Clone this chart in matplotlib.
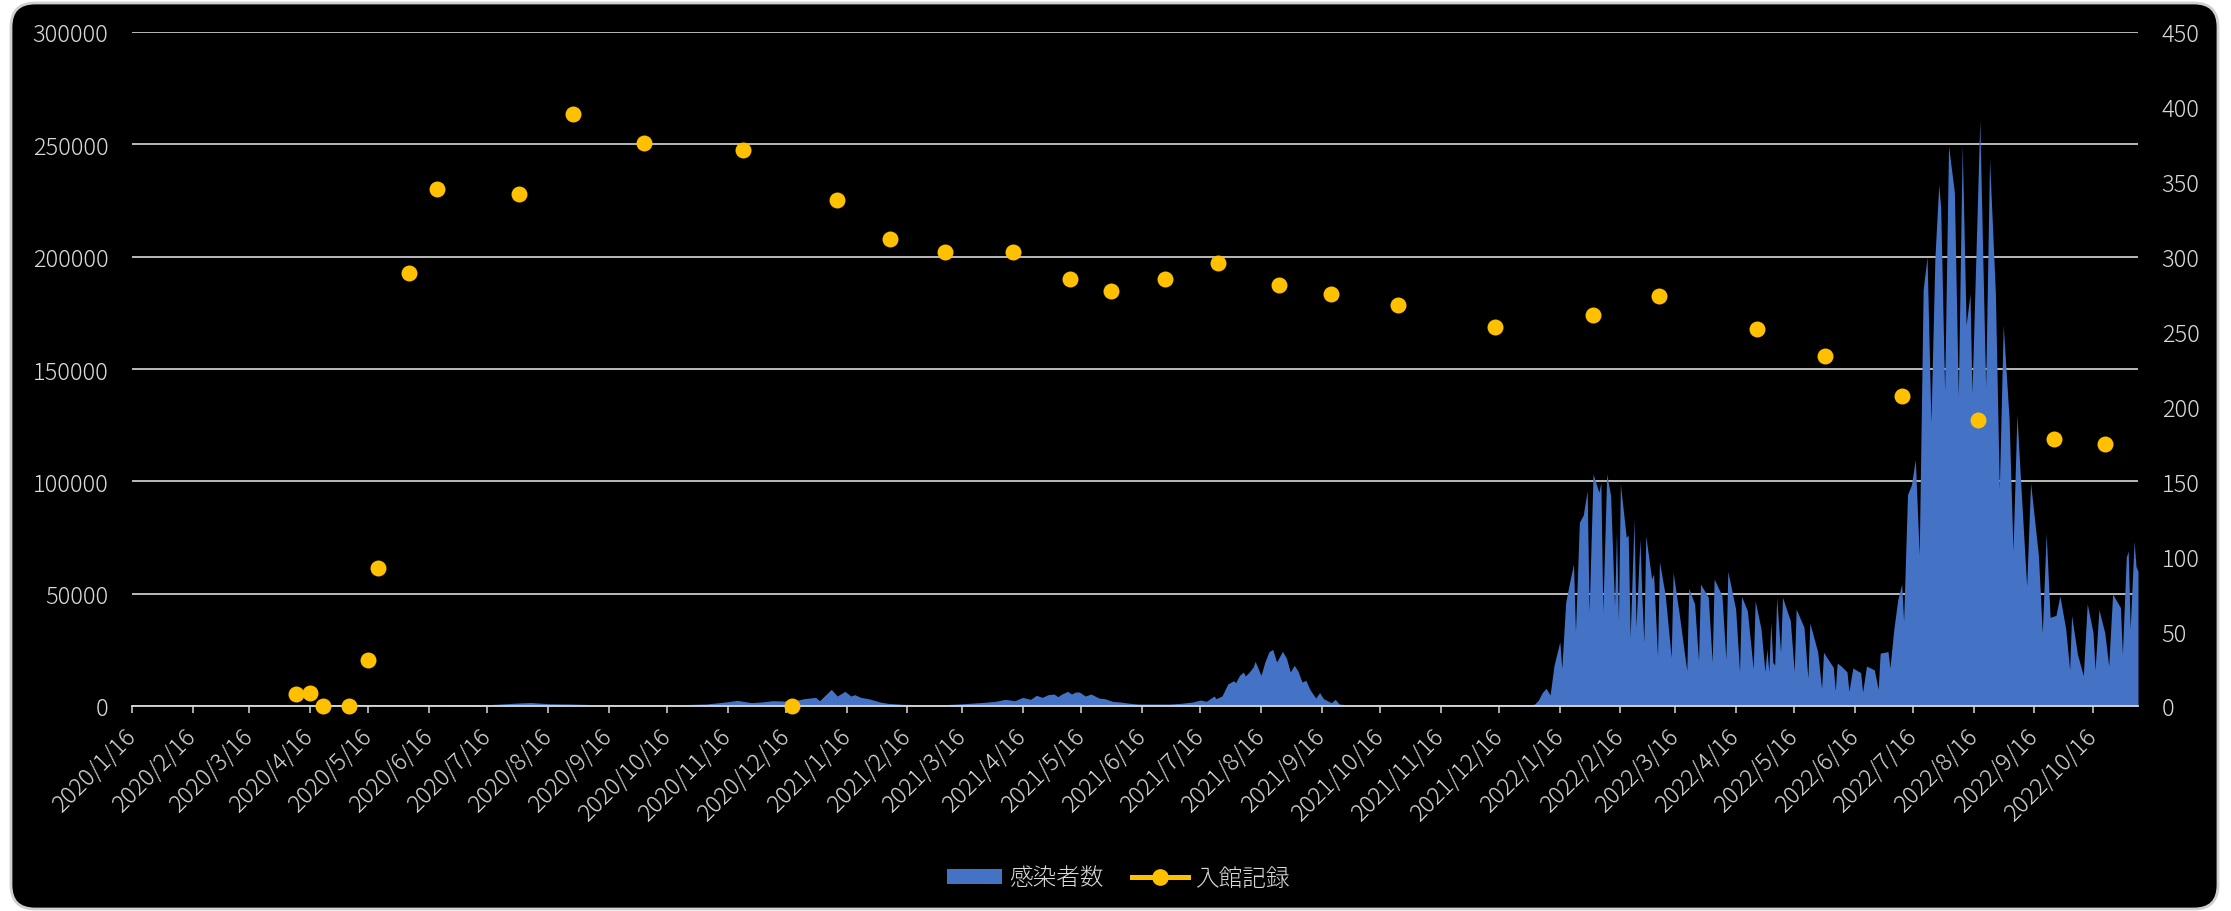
import numpy as np
import pandas as pd
import matplotlib
matplotlib.use("Agg")
import matplotlib.pyplot as plt
import matplotlib.dates as mdates
from matplotlib.patches import FancyBboxPatch, Patch
from matplotlib.lines import Line2D
from matplotlib.ticker import FuncFormatter, MultipleLocator
from matplotlib.transforms import IdentityTransform

plt.rcParams['font.family'] = ['Noto Sans CJK JP', 'DejaVu Sans']
plt.rcParams['font.weight'] = 'light'

# daily infections
case_dates = [
    "2020-01-16", "2020-02-20", "2020-03-10", "2020-03-28", "2020-04-11", "2020-04-25",
    "2020-05-10", "2020-05-25", "2020-06-20", "2020-07-08", "2020-07-23", "2020-07-31",
    "2020-08-07", "2020-08-17", "2020-08-27", "2020-09-10", "2020-09-30", "2020-10-20",
    "2020-11-05", "2020-11-14", "2020-11-21", "2020-11-28", "2020-12-03", "2020-12-09",
    "2020-12-19", "2020-12-25", "2020-12-31",
    "2021-01-02", "2021-01-08", "2021-01-11", "2021-01-15", "2021-01-18", "2021-01-20",
    "2021-01-23", "2021-01-27", "2021-02-02", "2021-02-06", "2021-02-14", "2021-02-24",
    "2021-03-06", "2021-03-14", "2021-03-25", "2021-04-02", "2021-04-07", "2021-04-12",
    "2021-04-16", "2021-04-20", "2021-04-23", "2021-04-26", "2021-04-29", "2021-05-02",
    "2021-05-04", "2021-05-06", "2021-05-09", "2021-05-11", "2021-05-13", "2021-05-15",
    "2021-05-18", "2021-05-21", "2021-05-25", "2021-05-28", "2021-06-01", "2021-06-05",
    "2021-06-10", "2021-06-14", "2021-06-22", "2021-06-30", "2021-07-06", "2021-07-12",
    "2021-07-16", "2021-07-19", "2021-07-21", "2021-07-23", "2021-07-24", "2021-07-27",
    "2021-07-30", "2021-08-02", "2021-08-03", "2021-08-05", "2021-08-07", "2021-08-08",
    "2021-08-10", "2021-08-12", "2021-08-13", "2021-08-16", "2021-08-18", "2021-08-20",
    "2021-08-22", "2021-08-24", "2021-08-27", "2021-08-29", "2021-08-31", "2021-09-02",
    "2021-09-04", "2021-09-06", "2021-09-08", "2021-09-10", "2021-09-13", "2021-09-15",
    "2021-09-17", "2021-09-21", "2021-09-23", "2021-09-25", "2021-09-29", "2021-10-10",
    "2021-10-25", "2021-11-15", "2021-12-10", "2021-12-28",
    "2022-01-03", "2022-01-05", "2022-01-07", "2022-01-09", "2022-01-11", "2022-01-13",
    "2022-01-16", "2022-01-17", "2022-01-19", "2022-01-21", "2022-01-23", "2022-01-24",
    "2022-01-26", "2022-01-28", "2022-01-30", "2022-01-31", "2022-02-02", "2022-02-05",
    "2022-02-06", "2022-02-07", "2022-02-09", "2022-02-11", "2022-02-13", "2022-02-14",
    "2022-02-15", "2022-02-16", "2022-02-19", "2022-02-20", "2022-02-21", "2022-02-23",
    "2022-02-24", "2022-02-26", "2022-02-27", "2022-02-28", "2022-03-01", "2022-03-04",
    "2022-03-05", "2022-03-07", "2022-03-08", "2022-03-11", "2022-03-14", "2022-03-15",
    "2022-03-18", "2022-03-22", "2022-03-23", "2022-03-26", "2022-03-28", "2022-03-29",
    "2022-04-02", "2022-04-04", "2022-04-05", "2022-04-09", "2022-04-11", "2022-04-12",
    "2022-04-16", "2022-04-18", "2022-04-19", "2022-04-22", "2022-04-25", "2022-04-26",
    "2022-04-29", "2022-05-01", "2022-05-02", "2022-05-03", "2022-05-04", "2022-05-05",
    "2022-05-06", "2022-05-07", "2022-05-09", "2022-05-10", "2022-05-14", "2022-05-16",
    "2022-05-17", "2022-05-21", "2022-05-23", "2022-05-24", "2022-05-28", "2022-05-30",
    "2022-05-31", "2022-06-05", "2022-06-06", "2022-06-07", "2022-06-09", "2022-06-12",
    "2022-06-13", "2022-06-15", "2022-06-19", "2022-06-20", "2022-06-22", "2022-06-26",
    "2022-06-28", "2022-06-29", "2022-07-03", "2022-07-04", "2022-07-06", "2022-07-08",
    "2022-07-10", "2022-07-11", "2022-07-13", "2022-07-15", "2022-07-17", "2022-07-19",
    "2022-07-21", "2022-07-23", "2022-07-25", "2022-07-27", "2022-07-29", "2022-07-30",
    "2022-08-01", "2022-08-03", "2022-08-06", "2022-08-08", "2022-08-10", "2022-08-12",
    "2022-08-14", "2022-08-15", "2022-08-19", "2022-08-22", "2022-08-24", "2022-08-27",
    "2022-08-29", "2022-08-31", "2022-09-03", "2022-09-05", "2022-09-07", "2022-09-09",
    "2022-09-12", "2022-09-14", "2022-09-18", "2022-09-20", "2022-09-22", "2022-09-24",
    "2022-09-27", "2022-09-29", "2022-10-02", "2022-10-04", "2022-10-05", "2022-10-08",
    "2022-10-11", "2022-10-13", "2022-10-16", "2022-10-17", "2022-10-19", "2022-10-22",
    "2022-10-24", "2022-10-26", "2022-10-30", "2022-10-31", "2022-11-02", "2022-11-03",
    "2022-11-04", "2022-11-06", "2022-11-07", "2022-11-08",
]
case_values = [
    1, 10, 50, 200, 700, 350,
    60, 30, 70, 250, 900, 1300,
    1550, 1000, 900, 600, 500, 550,
    900, 1700, 2500, 1500, 1780, 2370,
    2080, 3260, 3860,
    2370, 7420, 4450, 6530, 4450, 5050,
    3860, 3260, 1780, 1190, 740, 590,
    590, 890, 1480, 2080, 2970, 2370,
    3860, 2970, 4750, 3860, 5050, 5340,
    4160, 5340, 6530, 5340, 6230, 6230,
    4450, 5340, 3560, 3260, 2080, 1780,
    1190, 890, 890, 890, 1190, 1780,
    2670, 2080, 3260, 4450, 3260, 4450,
    9790, 11280, 10390, 13650, 15140, 13360,
    15140, 17360, 19890, 13650, 19590, 24040,
    25230, 19590, 24340, 21370, 15140, 18100,
    15430, 10680, 11430, 7420, 3560, 5940,
    3260, 1480, 2970, 890, 590, 500,
    250, 100, 120, 400,
    800, 2600, 6000, 7870, 4900, 17960,
    28640, 16770, 46150, 55060, 63220, 33090,
    81770, 85030, 95870, 41700, 103290, 95120,
    99580, 41700, 103290, 93640, 44670, 77320,
    37990, 98830, 75090, 76130, 30570, 83250,
    35020, 74350, 49120, 28340, 75830, 56540,
    58770, 22410, 64260, 49120, 21670, 59510,
    41700, 15730, 52390, 45410, 20180, 54310,
    48380, 19440, 56540, 49120, 20920, 59950,
    43180, 15290, 48820, 42440, 16470, 46890,
    34280, 15290, 25380, 15290, 37550, 19440,
    18250, 48380, 23890, 48380, 37990, 15290,
    43180, 35020, 12320, 36950, 24190, 7870,
    23890, 17210, 6830, 19140, 17800, 15200,
    6520, 16930, 14850, 6180, 17800, 16070,
    7390, 23530, 24220, 16930, 34280, 47290,
    54230, 37750, 94140, 98480, 109760, 67250,
    185230, 199980, 126230, 199110, 232080, 221670,
    140120, 249420, 228600, 137520, 249770, 169620,
    183500, 139250, 260680, 141860, 243350, 183500,
    96740, 169620, 127970, 68980, 129700, 98480,
    53360, 99350, 67250, 32550, 76790, 39480,
    40340, 49020, 34280, 16070, 40340, 23030,
    13470, 45550, 32550, 16070, 42940, 32550,
    17800, 49890, 43810, 23030, 66380, 68980,
    34280, 73320, 62050, 60000,
]

# museum entry records (right axis)
visit_dates = [
    "2020-04-09", "2020-04-16", "2020-04-23", "2020-05-06", "2020-05-16", "2020-05-21",
    "2020-06-06", "2020-06-20", "2020-08-01", "2020-08-29", "2020-10-04", "2020-11-24",
    "2020-12-19", "2021-01-11", "2021-02-07", "2021-03-07", "2021-04-11", "2021-05-10",
    "2021-05-31", "2021-06-28", "2021-07-25", "2021-08-25", "2021-09-21", "2021-10-25",
    "2021-12-14", "2022-02-02", "2022-03-08", "2022-04-27", "2022-06-01", "2022-07-10",
    "2022-08-18", "2022-09-26", "2022-10-22",
]
visit_values = [
    8, 9, 0, 0, 31, 92,
    289, 345, 342, 395, 376, 371,
    0, 338, 312, 303, 303, 285,
    277, 285, 296, 281, 275, 268,
    253, 261, 274, 252, 234, 207,
    191, 178, 175,
]

x_start, x_end = "2020-01-16", "2022-11-08"

blue = '#4472C4'
gold = '#FFC000'
light = '#D9D9D9'

fig = plt.figure(figsize=(22.31, 9.12), dpi=100, facecolor='white')
frame = FancyBboxPatch((11, 2), 2207, 906, boxstyle='round,pad=0,rounding_size=24',
                       transform=IdentityTransform(), facecolor='black',
                       edgecolor='#D0D0D0', linewidth=2, zorder=-10)
fig.add_artist(frame)

ax = fig.add_axes([132 / 2231, 1 - 707 / 912, (2138 - 132) / 2231, (707 - 33) / 912])
ax.set_facecolor('black')
ax2 = ax.twinx()
ax2.patch.set_visible(False)

cd = pd.to_datetime(case_dates)
ax.fill_between(cd, case_values, 0, color=blue, linewidth=0, zorder=2)

vd = pd.to_datetime(visit_dates)
ax2.plot(vd, visit_values, linestyle='none', marker='o', markersize=11.5,
         color=gold, markeredgewidth=0, clip_on=False, zorder=5)

ax.set_xlim(pd.Timestamp(x_start), pd.Timestamp(x_end))
ax.set_ylim(0, 300000)
ax2.set_ylim(0, 450)
ax.yaxis.set_major_locator(MultipleLocator(50000))
ax2.yaxis.set_major_locator(MultipleLocator(50))

ax.set_axisbelow(True)
ax.grid(axis='y', color=light, linewidth=1.2)
ax.grid(axis='x', visible=False)

for a in (ax, ax2):
    for s in a.spines.values():
        s.set_visible(False)
ax.spines['bottom'].set_visible(True)
ax.spines['bottom'].set_color(light)
ax.spines['bottom'].set_linewidth(1.3)
ax.spines['bottom'].set_zorder(3)

ax.xaxis.set_major_locator(mdates.MonthLocator(bymonthday=16))
ax.xaxis.set_major_formatter(FuncFormatter(
    lambda v, p: (lambda d: f"{d.year}/{d.month}/{d.day}")(mdates.num2date(v))))
ax.tick_params(axis='x', direction='out', length=5, width=1.1, color=light,
               labelcolor=light, labelsize=17, pad=14)
for lbl in ax.get_xticklabels():
    lbl.set_rotation(45)
    lbl.set_ha('right')
    lbl.set_va('center')
    lbl.set_rotation_mode('anchor')

ax.tick_params(axis='y', length=0, labelcolor=light, labelsize=17, pad=17)
ax2.tick_params(axis='y', length=0, labelcolor=light, labelsize=17, pad=17)

handles = [Patch(facecolor=blue, edgecolor='none'),
           Line2D([], [], color=gold, linewidth=3.6, marker='o', markersize=11)]
fig.legend(handles, ['感染者数', '入館記録'], loc='center',
           bbox_to_anchor=(1118 / 2231, 1 - 879 / 912), ncol=2, frameon=False,
           fontsize=17, labelcolor=light, handlelength=2.35, handleheight=0.6,
           handletextpad=0.3, columnspacing=1.2)

fig.savefig('out.png', dpi=100, facecolor='white')
